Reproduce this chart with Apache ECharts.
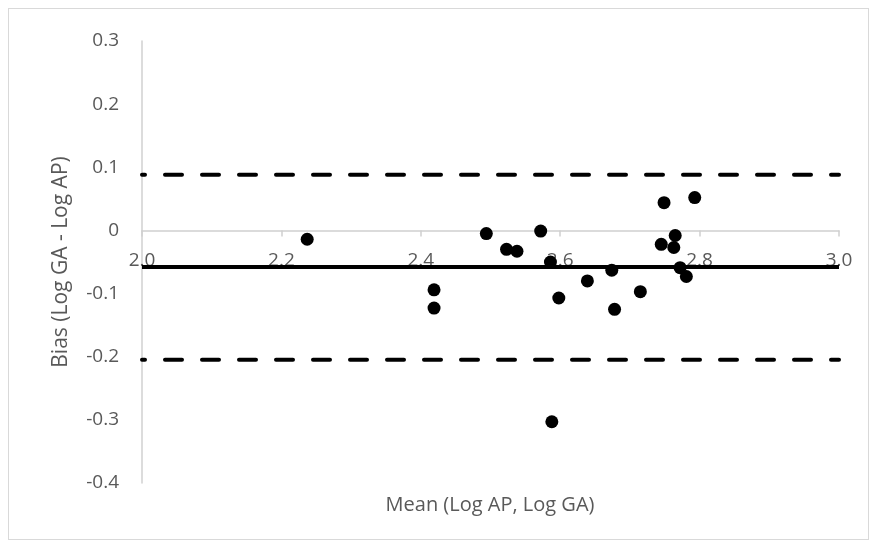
<!DOCTYPE html>
<html>
<head>
<meta charset="utf-8">
<script src="https://cdn.jsdelivr.net/npm/echarts@6/dist/echarts.min.js"></script>
<style>
html, body { margin: 0; padding: 0; background: #fff; }
#frame {
  position: absolute; left: 8px; top: 8px; width: 861px; height: 532px;
  border: 1px solid #d9d9d9; box-sizing: border-box;
}
#draw { position: absolute; left: 0; top: 0; width: 877px; height: 549px; }
</style>
</head>
<body>
<div id="frame"></div>
<div id="draw"></div>
<script>
// mean of log values vs difference
var meanLog = [2.237, 2.419, 2.419, 2.494, 2.523, 2.538, 2.572, 2.586, 2.588, 2.598,
  2.639, 2.674, 2.678, 2.715, 2.745, 2.749, 2.763, 2.765, 2.772, 2.781, 2.793];
var bias = [-0.014, -0.094, -0.123, -0.005, -0.030, -0.033, -0.001, -0.050, -0.303, -0.107,
  -0.080, -0.063, -0.125, -0.097, -0.022, 0.044, -0.027, -0.008, -0.059, -0.073, 0.052];
var meanBias = -0.058;
var upperLoA = 0.088;
var lowerLoA = -0.205;
var xRange = [2.0, 3.0];
var yRange = [-0.4, 0.3];

var chart = echarts.init(document.getElementById("draw"));
var font = "'Open Sans', sans-serif";

function hline(v, dashed) {
  return {
    type: "line",
    data: [[xRange[0], v], [xRange[1], v]],
    symbol: "none",
    silent: true,
    z: 1,
    lineStyle: {
      color: "#000",
      width: 4,
      type: dashed ? [17, 20] : "solid",
      dashOffset: dashed ? 14 : 0,
      cap: dashed ? "round" : "butt"
    }
  };
}

var option = {
  animation: false,
  grid: { left: 142, right: 38, top: 41, bottom: 66 },
  xAxis: {
    type: "value",
    min: xRange[0],
    max: xRange[1],
    interval: 0.2,
    axisLine: { onZero: false, lineStyle: { color: "#d0d0d0", width: 1.5 } },
    axisTick: { show: true, length: 6, lineStyle: { color: "#d0d0d0", width: 1.5 } },
    axisLabel: {
      color: "#595959", fontSize: 19, fontFamily: font, margin: 21,
      formatter: function (v) { return v.toFixed(1); }
    },
    splitLine: { show: false }
  },
  yAxis: {
    type: "value",
    min: yRange[0],
    max: yRange[1],
    interval: 0.1,
    name: "Bias (Log GA - Log AP)",
    nameLocation: "middle",
    nameGap: 70,
    nameTextStyle: { color: "#595959", fontSize: 21, fontFamily: font },
    axisLine: { show: true, onZero: false, lineStyle: { color: "#d0d0d0", width: 1.5 } },
    axisTick: { show: false },
    axisLabel: {
      color: "#595959", fontSize: 19, fontFamily: font, margin: 23,
      formatter: function (v) { return Math.abs(v) < 1e-9 ? "0" : v.toFixed(1); }
    },
    splitLine: { show: false }
  },
  graphic: [{
    type: "text", x: 490, y: 505,
    style: {
      text: "Mean (Log AP, Log GA)", fill: "#595959",
      font: "20px 'Open Sans', sans-serif", align: "center", verticalAlign: "middle"
    }
  }],
  series: [
    hline(upperLoA, true),
    hline(meanBias, false),
    hline(lowerLoA, true),
    {
      type: "scatter",
      data: meanLog.map(function (x, i) { return [x, bias[i]]; }),
      symbol: "circle",
      symbolSize: 13,
      itemStyle: { color: "#000", opacity: 1 },
      z: 3
    }
  ]
};
chart.setOption(option);

// move the x axis up so it crosses the y axis at zero
var zeroY = chart.convertToPixel({ yAxisIndex: 0 }, 0);
var bottomY = chart.convertToPixel({ yAxisIndex: 0 }, yRange[0]);
chart.setOption({ xAxis: { offset: zeroY - bottomY } });
</script>
</body>
</html>
